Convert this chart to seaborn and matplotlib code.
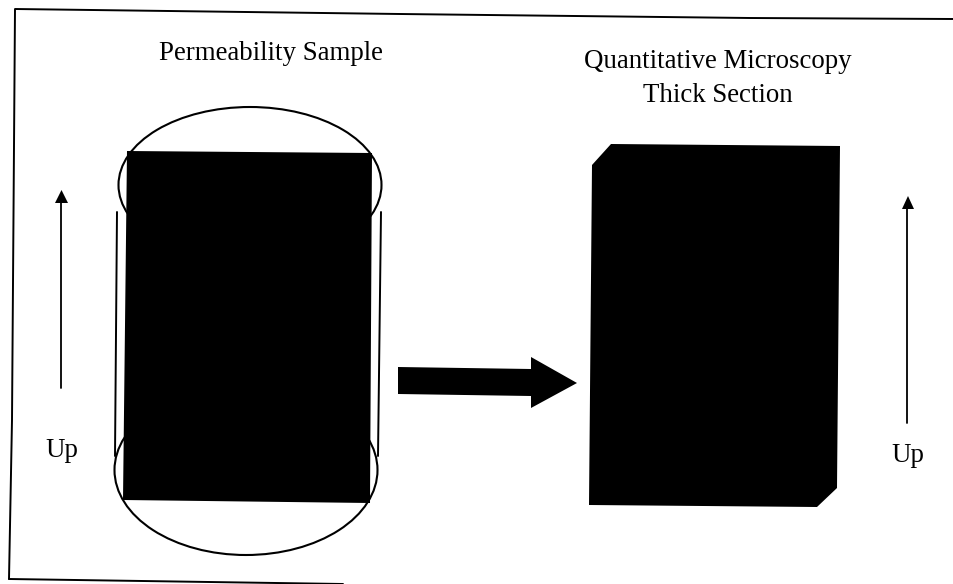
import matplotlib
matplotlib.use("Agg")
import matplotlib.pyplot as plt
from matplotlib.patches import Ellipse
import seaborn as sns

# Diagram outlines (x, y in image pixels)
frame_x = [9, 12, 15, 400, 750, 954]
frame_y = [579, 420, 9, 14, 18, 19]
frame_bottom_x = [9, 343]
frame_bottom_y = [579, 584]
side_left_x = [117, 115]
side_left_y = [212, 456]
side_right_x = [381, 378]
side_right_y = [212, 456]
sample_x = [127, 372, 370, 123]
sample_y = [151, 153, 503, 500]
section_x = [611, 840, 837, 817, 589, 592]
section_y = [144, 146, 488, 507, 505, 165]
flow_x = [398, 531, 531, 577, 531, 531, 398]
flow_y = [367, 369, 357, 383, 408, 396, 394]
up_left_x = [61, 61]
up_left_y = [388, 200]
up_left_head_x = [55, 61.5, 68]
up_left_head_y = [203, 190, 203]
up_right_x = [907, 907]
up_right_y = [423, 205]
up_right_head_x = [902, 908, 914]
up_right_head_y = [209, 196, 209]
top_cap = (250, 185, 263, 156)
bottom_cap = (246, 470, 263, 170)
labels = [
    ("Permeability Sample", 271, 60),
    ("Quantitative Microscopy", 718, 68),
    ("Thick Section", 718, 102),
    ("Up", 62, 457),
    ("Up", 908, 462),
]

sns.set_style("white")
plt.rcParams["font.family"] = ["Liberation Serif", "DejaVu Serif"]

fig = plt.figure(figsize=(9.54, 5.84), dpi=100, facecolor="white")
ax = fig.add_axes([0, 0, 1, 1])
ax.set_xlim(0, 954)
ax.set_ylim(584, 0)
ax.axis("off")


def line(xs, ys, lw):
    sns.lineplot(x=xs, y=ys, sort=False, estimator=None, color="black",
                 linewidth=lw, ax=ax, legend=False)


line(frame_x, frame_y, 1.4)
line(frame_bottom_x, frame_bottom_y, 1.4)
line(side_left_x, side_left_y, 1.4)
line(side_right_x, side_right_y, 1.4)
line(up_left_x, up_left_y, 1.3)
line(up_right_x, up_right_y, 1.3)

for cx, cy, w, h in (top_cap, bottom_cap):
    ax.add_patch(Ellipse((cx, cy), w, h, fill=False, edgecolor="black", linewidth=1.5))

for xs, ys in ((sample_x, sample_y), (section_x, section_y), (flow_x, flow_y),
               (up_left_head_x, up_left_head_y), (up_right_head_x, up_right_head_y)):
    ax.fill(xs, ys, color="black", linewidth=0, zorder=3)

for text, x, y in labels:
    ax.text(x, y, text, ha="center", va="baseline", fontsize=19.4, color="black")

fig.savefig("out.png", dpi=100)
